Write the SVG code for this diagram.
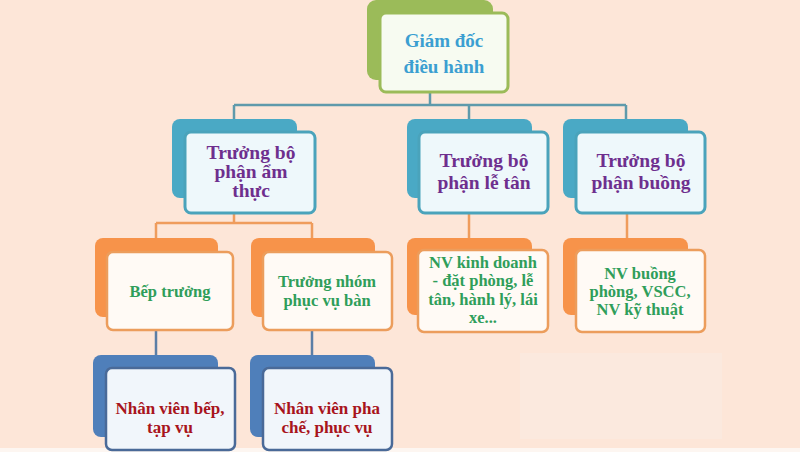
<svg xmlns="http://www.w3.org/2000/svg" width="800" height="452" viewBox="0 0 800 452">
<style>
text{font-family:"Liberation Serif","Times New Roman",serif;font-weight:bold;text-anchor:middle}
.t1{fill:#3b9fd1;font-size:19px}
.t2{fill:#6e2f8e;font-size:19.5px}
.t3{fill:#2f9e5a;font-size:16.5px}
.t4{fill:#a8141c;font-size:17px}
.bg{fill:#9bbb59}
.fg{fill:#f7fbf1;stroke:#9bbb59;stroke-width:3}
.bt{fill:#4aa9c5}
.ft{fill:#eef8fb;stroke:#4aa3bb;stroke-width:3}
.bo{fill:#f7934a}
.fo{fill:#fffaf5;stroke:#ec9d5c;stroke-width:2.5}
.bb{fill:#4f7fba}
.fb{fill:#f1f6fb;stroke:#4a6a98;stroke-width:2.5}
.ct{stroke:#5f9aab;stroke-width:2.5;fill:none}
.co{stroke:#ef9c5c;stroke-width:2.5;fill:none}
.cb{stroke:#5b7ea6;stroke-width:2.5;fill:none}
</style>
<rect width="800" height="452" fill="#fde6d8"/>
<rect x="520" y="353" width="202" height="86" fill="#fbe9de"/>
<rect x="0" y="448" width="800" height="4" fill="#fdf6f1"/>
<g id="connectors">
<path class="ct" d="M430 92V105M234 105H626M234 105V119M469 105V119M626 105V119"/>
<path class="co" d="M234 213V223M156 223H312M156 223V238M312 223V238M469 213V238M627 213V238"/>
<path class="cb" d="M156 330V355M312 330V355"/>
</g>
<g id="n-giamdoc">
<rect class="bg" x="367" y="0" width="126" height="80" rx="9"/>
<rect class="fg" x="380" y="13" width="128" height="79" rx="6"/>
<text class="t1" x="444" y="47">Giám đốc</text>
<text class="t1" x="444" y="73">điều hành</text>
</g>
<g id="n-amthuc">
<rect class="bt" x="172" y="119" width="125" height="79" rx="8"/>
<rect class="ft" x="185" y="132" width="130" height="81" rx="6"/>
<text class="t2" x="251" y="159">Trưởng bộ</text>
<text class="t2" x="251" y="178">phận ẩm</text>
<text class="t2" x="251" y="197">thực</text>
</g>
<g id="n-letan">
<rect class="bt" x="407" y="119" width="125" height="79" rx="8"/>
<rect class="ft" x="419" y="132" width="129" height="81" rx="6"/>
<text class="t2" x="484" y="167">Trưởng bộ</text>
<text class="t2" x="484" y="189">phận lễ tân</text>
</g>
<g id="n-buong">
<rect class="bt" x="563" y="119" width="125" height="79" rx="8"/>
<rect class="ft" x="576" y="132" width="129" height="81" rx="6"/>
<text class="t2" x="641" y="167">Trưởng bộ</text>
<text class="t2" x="641" y="189">phận buồng</text>
</g>
<g id="n-beptruong">
<rect class="bo" x="95" y="238" width="123" height="79" rx="8"/>
<rect class="fo" x="107" y="252" width="126" height="78" rx="6"/>
<text class="t3" x="170" y="297">Bếp trưởng</text>
</g>
<g id="n-phucvuban">
<rect class="bo" x="251" y="238" width="124" height="79" rx="8"/>
<rect class="fo" x="263" y="252" width="129" height="78" rx="6"/>
<text class="t3" x="327" y="287">Trưởng nhóm</text>
<text class="t3" x="327" y="306">phục vụ bàn</text>
</g>
<g id="n-kinhdoanh">
<rect class="bo" x="407" y="238" width="125" height="77" rx="8"/>
<rect class="fo" x="418" y="250" width="130" height="82" rx="6"/>
<text class="t3" x="483" y="268">NV kinh doanh</text>
<text class="t3" x="483" y="286">- đặt phòng, lễ</text>
<text class="t3" x="483" y="305">tân, hành lý, lái</text>
<text class="t3" x="483" y="323">xe...</text>
</g>
<g id="n-nvbuong">
<rect class="bo" x="563" y="238" width="125" height="77" rx="8"/>
<rect class="fo" x="576" y="250" width="129" height="82" rx="6"/>
<text class="t3" x="640" y="279">NV buồng</text>
<text class="t3" x="640" y="297">phòng, VSCC,</text>
<text class="t3" x="640" y="315">NV kỹ thuật</text>
</g>
<g id="n-nvbep">
<rect class="bb" x="93" y="355" width="125" height="82" rx="8"/>
<rect class="fb" x="106" y="368" width="129" height="82" rx="6"/>
<text class="t4" x="170" y="414">Nhân viên bếp,</text>
<text class="t4" x="170" y="433">tạp vụ</text>
</g>
<g id="n-nvphache">
<rect class="bb" x="250" y="355" width="125" height="82" rx="8"/>
<rect class="fb" x="263" y="368" width="129" height="82" rx="6"/>
<text class="t4" x="327" y="414">Nhân viên pha</text>
<text class="t4" x="327" y="433">chế, phục vụ</text>
</g>
</svg>
